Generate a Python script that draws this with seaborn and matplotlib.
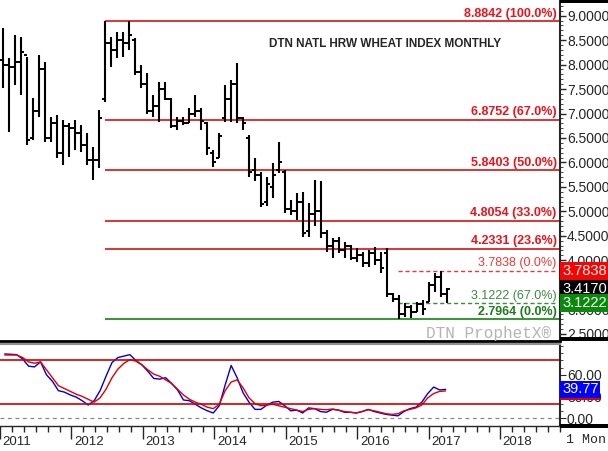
import numpy as np
import pandas as pd
import matplotlib
matplotlib.use("Agg")
import matplotlib.pyplot as plt
import matplotlib.transforms as mtransforms
from matplotlib.patches import Rectangle
from matplotlib.ticker import MultipleLocator, FormatStrFormatter
import seaborn as sns

sns.set_style("white")
plt.rcParams["font.family"] = ["Liberation Sans", "DejaVu Sans"]

# monthly OHLC, Jan 2011 .. Mar 2017
high = [8.74, 8.13, 8.61, 8.57, 8.16, 7.31, 8.20, 8.06, 6.93, 6.97, 6.87, 6.81,
        6.87, 6.76, 6.60, 6.32, 7.07, 8.8842, 8.57, 8.67, 8.67, 8.8842, 8.54, 7.99,
        7.82, 7.38, 7.65, 7.65, 7.31, 6.93, 6.93, 7.11, 7.38, 7.11, 6.83, 6.25,
        6.60, 7.58, 7.69, 8.03, 6.93, 6.56, 6.08, 5.81, 5.70, 5.99, 6.42, 5.84,
        5.23, 5.37, 5.40, 5.17, 5.64, 5.61, 4.62, 4.45, 4.48, 4.38, 4.31, 4.24,
        4.17, 4.21, 4.28, 4.17, 4.24, 3.33, 3.29, 3.12, 3.08, 3.14, 3.19, 3.55,
        3.74, 3.7838, 3.43]
low = [7.52, 6.63, 7.58, 7.38, 6.36, 6.46, 6.93, 6.42, 6.42, 6.09, 5.95, 6.12,
       6.25, 6.22, 5.95, 5.64, 5.89, 7.24, 7.96, 8.13, 8.16, 8.30, 7.79, 7.52,
       7.00, 6.93, 6.83, 7.28, 6.70, 6.66, 6.76, 6.80, 6.93, 6.66, 6.15, 5.91,
       6.08, 6.83, 6.83, 6.80, 6.66, 5.71, 5.61, 5.09, 5.10, 5.27, 5.78, 4.97,
       4.92, 4.82, 4.48, 4.48, 4.69, 4.45, 4.17, 4.04, 4.14, 4.04, 4.00, 3.97,
       3.87, 3.87, 3.90, 3.73, 3.25, 3.14, 2.7964, 2.84, 2.82, 2.94, 2.88, 3.14,
       3.35, 3.25, 3.12]
open_ = [8.10, 8.00, 7.95, 8.05, 8.20, 6.50, 7.05, 7.90, 6.50, 6.80, 6.20, 6.75,
         6.70, 6.60, 6.35, 6.05, 6.05, 7.30, 8.45, 8.30, 8.50, 8.45, 8.50, 7.85,
         7.60, 7.05, 7.15, 7.50, 7.30, 6.75, 6.85, 6.80, 7.00, 7.05, 6.80, 6.20,
         6.10, 6.90, 7.30, 7.60, 6.90, 6.50, 5.85, 5.75, 5.20, 5.50, 5.85, 5.80,
         5.05, 5.00, 5.20, 4.60, 4.95, 5.00, 4.55, 4.30, 4.40, 4.20, 4.30, 4.05,
         4.10, 3.95, 4.15, 4.00, 4.15, 3.30, 3.20, 2.90, 3.05, 2.95, 3.10, 3.15,
         3.50, 3.65, 3.30]
close = [8.00, 7.95, 8.05, 8.25, 6.45, 7.05, 7.90, 6.50, 6.80, 6.20, 6.75, 6.70,
         6.60, 6.35, 6.05, 6.05, 6.90, 8.45, 8.30, 8.50, 8.45, 8.60, 7.85, 7.60,
         7.05, 7.15, 7.50, 7.30, 6.75, 6.85, 6.80, 7.00, 7.05, 6.85, 6.30, 6.00,
         6.55, 7.30, 7.60, 6.90, 6.80, 5.80, 5.75, 5.15, 5.55, 5.75, 6.00, 5.05,
         5.00, 5.20, 4.55, 4.95, 5.00, 4.55, 4.30, 4.40, 4.20, 4.30, 4.05, 4.10,
         3.95, 4.15, 4.00, 3.85, 3.30, 3.20, 2.90, 3.05, 2.95, 3.10, 3.00, 3.50,
         3.65, 3.30, 3.417]

# stochastic %K (blue) and %D (red)
stoch_k = [89, 88.5, 88, 82, 72, 71, 78, 60, 51, 38, 36, 32,
           29, 24, 18, 24, 38, 58, 77, 84, 86, 88, 80, 74,
           65, 55, 54, 56, 48, 39, 25, 24, 19, 14, 10, 7,
           17, 46, 73, 56, 35, 22, 12, 12, 18, 22, 23, 17,
           10, 11, 7, 14, 13, 9, 8, 12, 11, 8, 8, 7,
           9, 12, 9, 7, 5, 4, 3, 9, 13, 15, 22, 34,
           43, 39, 39.77]
stoch_d = [87.5, 87.5, 87.5, 84, 78, 76, 78, 67, 56, 45, 41, 37,
           33, 30, 26, 22, 28, 40, 56, 68, 76, 81, 79, 74,
           67, 61, 58, 53, 48, 40, 32, 26, 22, 19, 15, 13,
           19, 38, 50, 53, 42, 28, 20, 17, 18, 19, 17, 15,
           13, 11, 9, 12, 13, 12, 11.5, 12.5, 11, 9, 8, 7,
           9, 11.5, 10, 8, 6, 5, 6, 10, 12, 14, 18, 28,
           34, 37, 37.6]

# retracement levels
fib_levels = [8.8842, 6.8752, 5.8403, 4.8054, 4.2331]
fib_labels = ["8.8842 (100.0%)", "6.8752 (67.0%)", "5.8403 (50.0%)",
              "4.8054 (33.0%)", "4.2331 (23.6%)"]
low_level, low_label = 2.7964, "2.7964 (0.0%)"
sub_levels = [3.7838, 3.1222]
sub_labels = ["3.7838 (0.0%)", "3.1222 (67.0%)"]
years = ["2011", "2012", "2013", "2014", "2015", "2016", "2017", "2018"]
last_price = 3.4170

months = np.arange(len(high))
df = pd.DataFrame({"m": months, "k": stoch_k, "d": stoch_d})

W, H = 608, 451
fig = plt.figure(figsize=(W / 100, H / 100), dpi=100)
ax = fig.add_axes([0, 1 - 341 / H, 560 / W, 341 / H])
ax2 = fig.add_axes([0, 1 - 426 / H, 560 / W, 82 / H])
XMIN, XMAX = -0.5, 92.83

RED, GREEN = "#d21414", "#128212"

# ---- price panel
ax.vlines(months, low, high, color="black", lw=1.5, zorder=3)
ax.hlines(open_, months - 0.55, months, color="black", lw=1.4, zorder=3)
ax.hlines(close, months, months + 0.55, color="black", lw=1.4, zorder=3)

trans = mtransforms.blended_transform_factory(ax.transAxes, ax.transData)
for lvl, lab in zip(fib_levels, fib_labels):
    ax.hlines(lvl, 17, XMAX, color=RED, lw=1.2, zorder=2)
    ax.annotate(lab, xy=(0.994, lvl), xycoords=trans, xytext=(0, 1),
                textcoords="offset points", ha="right", va="bottom",
                fontsize=9, fontweight="bold", color="#e8141c")
ax.hlines(low_level, 17, XMAX, color=GREEN, lw=1.2, zorder=2)
ax.annotate(low_label, xy=(0.994, low_level), xycoords=trans, xytext=(0, 1),
            textcoords="offset points", ha="right", va="bottom",
            fontsize=9, fontweight="bold", color="#1e7a1e")
for lvl, lab, col in zip(sub_levels, sub_labels, ["#e83a3a", "#3c8c3c"]):
    ax.hlines(lvl, 65.8, 92.2, color=col, lw=1, ls=(0, (3, 2)), zorder=2)
    ax.annotate(lab, xy=(0.994, lvl), xycoords=trans, xytext=(0, 1),
                textcoords="offset points", ha="right", va="bottom",
                fontsize=9, color=col)

ax.text(0.6875, 8.42, "DTN NATL HRW WHEAT INDEX MONTHLY", transform=trans,
        ha="center", va="center", fontsize=8.5, fontweight="bold")
ax.text(0.985, 2.51, "DTN ProphetX\u00ae", transform=trans, ha="right",
        va="center", fontsize=11.5, color="#b4b4b4",
        family=["Liberation Mono", "DejaVu Sans Mono"])

ax.set_xlim(XMIN, XMAX)
ax.set_ylim(2.348, 9.321)
ax.yaxis.tick_right()
ax.yaxis.set_major_locator(MultipleLocator(0.5))
ax.yaxis.set_minor_locator(MultipleLocator(0.1))
ax.yaxis.set_major_formatter(FormatStrFormatter("%.4f"))
ax.tick_params(axis="y", which="major", length=4, width=1, pad=1,
               labelsize=10, right=True, left=False)
ax.tick_params(axis="y", which="minor", length=2, right=True, left=False)
ax.set_xticks([])
for s in ["left", "top"]:
    ax.spines[s].set_visible(False)
ax.spines["right"].set_linewidth(1.5)
ax.spines["bottom"].set_linewidth(2)
ax.spines["bottom"].set_color("black")

for val, txt, fc in [(3.7838, "3.7838", "#ff0000"),
                     (last_price, "3.4170", "#000000"),
                     (3.1222, "3.1222", "#0a8a0a")]:
    ax.text(1.004, val, txt, transform=trans, ha="left", va="center",
            fontsize=10.5, color="white", zorder=10, clip_on=False,
            bbox=dict(boxstyle="square,pad=0.12", fc=fc, ec="none"))

# ---- stochastic panel
sns.lineplot(data=df, x="m", y="k", ax=ax2, color="#0000d0", lw=1)
sns.lineplot(data=df, x="m", y="d", ax=ax2, color="#e00000", lw=1)
ax2.axhline(80, color="#cc0000", lw=1.2)
ax2.axhline(20, color="#cc0000", lw=1.2)
ax2.axhline(0, color="#888888", lw=0.9, ls=(0, (3, 3)))
ax2.set_xlim(XMIN, XMAX)
ax2.set_ylim(-11.1, 102.8)
ax2.set_xlabel("")
ax2.set_ylabel("")
ax2.yaxis.tick_right()
ax2.set_yticks([0, 30, 60])
ax2.yaxis.set_minor_locator(MultipleLocator(10))
ax2.yaxis.set_major_formatter(FormatStrFormatter("%.2f"))
ax2.tick_params(axis="y", which="major", length=4, pad=1, labelsize=10,
                right=True, left=False)
ax2.tick_params(axis="y", which="minor", length=2, right=True, left=False)

year_pos = [12 * i - 0.8 for i in range(len(years))]
ax2.set_xticks(year_pos)
ax2.set_xticklabels([])
ax2.set_xticks([p + 2 * j for p in year_pos for j in range(1, 6)], minor=True)
ax2.tick_params(axis="x", which="major", length=9, width=1, direction="out",
                bottom=True)
ax2.tick_params(axis="x", which="minor", length=4, width=1, direction="out",
                bottom=True)
xtrans = mtransforms.blended_transform_factory(ax2.transData, ax2.transAxes)
for p, y in zip(year_pos, years):
    ax2.text(p + 0.4, -0.12, y, transform=xtrans, ha="left", va="top",
             fontsize=9.5, clip_on=False)
ax2.spines["left"].set_visible(False)
ax2.spines["top"].set_color("#909090")
ax2.spines["top"].set_linewidth(1.5)
ax2.spines["right"].set_linewidth(1.5)
ax2.spines["bottom"].set_linewidth(1)

ytrans2 = mtransforms.blended_transform_factory(ax2.transAxes, ax2.transData)
ax2.text(1.004, 36.5, "39.77", transform=ytrans2, ha="left", va="center",
         fontsize=10.5, color="#e00000", zorder=9, clip_on=False,
         bbox=dict(boxstyle="square,pad=0.12", fc="#e00000", ec="none"))
ax2.text(1.004, 39.77, "39.77", transform=ytrans2, ha="left", va="center",
         fontsize=10.5, color="white", zorder=10, clip_on=False,
         bbox=dict(boxstyle="square,pad=0.12", fc="#0000ff", ec="none"))

# right-margin frame bars
for y0, h in [(0, 3), (337, 4), (424, 4)]:
    fig.add_artist(Rectangle((560 / W, 1 - (y0 + h) / H), 48 / W, h / H,
                             transform=fig.transFigure, fc="black", ec="none"))
fig.text(566 / W, 1 - 440 / H, "1 Mon", ha="left", va="center", fontsize=9.5,
         family=["Liberation Mono", "DejaVu Sans Mono"])

fig.savefig("out.png", dpi=100)
